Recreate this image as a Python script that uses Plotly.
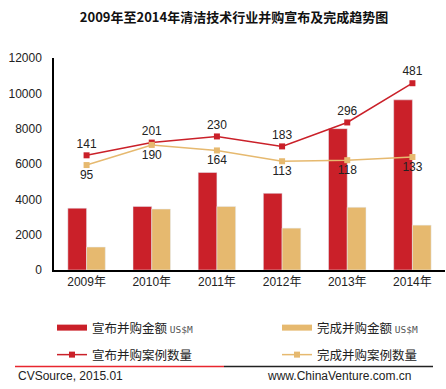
import plotly.graph_objects as go

years = ["2009年", "2010年", "2011年", "2012年", "2013年", "2014年"]
announced_amount = [3500, 3600, 5520, 4340, 8000, 9630]
completed_amount = [1300, 3450, 3600, 2370, 3550, 2540]
announced_cases = [141, 201, 230, 183, 296, 481]
completed_cases = [95, 190, 164, 113, 118, 133]

RED = "#CA2029"
TAN = "#E6B96F"
FONT = "Liberation Sans, Arial, Noto Sans CJK SC, sans-serif"
CJK = "Noto Sans CJK SC, sans-serif"
unit = " <span style='font-family:DejaVu Sans Mono, monospace;font-size:9.5px;color:#555'>US$M</span>"

fig = go.Figure()
fig.add_trace(go.Bar(x=years, y=announced_amount, marker_color=RED, showlegend=False,
                     name="宣布并购金额"))
fig.add_trace(go.Bar(x=years, y=completed_amount, marker_color=TAN, showlegend=False,
                     name="完成并购金额"))
# legend swatches for bars
fig.add_trace(go.Scatter(x=[None], y=[None], mode="lines", line=dict(color=RED, width=6),
                         name="宣布并购金额" + unit, legend="legend"))
fig.add_trace(go.Scatter(x=[None], y=[None], mode="lines", line=dict(color=TAN, width=6),
                         name="完成并购金额" + unit, legend="legend2"))
fig.add_trace(go.Scatter(x=years, y=announced_cases, yaxis="y2", mode="lines+markers+text",
                         line=dict(color=RED, width=1.5), marker=dict(symbol="square", size=6, color=RED),
                         text=[str(v) for v in announced_cases], textposition="top center",
                         textfont=dict(size=12, color="#222", family=FONT),
                         name="宣布并购案例数量", legend="legend3", cliponaxis=False))
fig.add_trace(go.Scatter(x=years, y=completed_cases, yaxis="y2", mode="lines+markers+text",
                         line=dict(color=TAN, width=1.5), marker=dict(symbol="square", size=6, color=TAN),
                         text=[str(v) for v in completed_cases], textposition="bottom center",
                         textfont=dict(size=12, color="#222", family=FONT),
                         name="完成并购案例数量", legend="legend4", cliponaxis=False))


def leg(px_x, px_top):
    return dict(orientation="h", xref="container", yref="container",
                x=px_x / 446, xanchor="left", y=1 - px_top / 389, yanchor="top",
                font=dict(size=12.5, family=CJK, color="#222"),
                bgcolor="rgba(0,0,0,0)", itemwidth=30)


fig.update_layout(
    width=446, height=389,
    margin=dict(l=54, r=1, t=58, b=119, autoexpand=False),
    paper_bgcolor="white", plot_bgcolor="white",
    font=dict(family=FONT, size=12, color="#222"),
    barmode="group", bargap=0.425, bargroupgap=0,
    title=dict(text="<b>2009年至2014年清洁技术行业并购宣布及完成趋势图</b>",
               font=dict(family=CJK, size=13, color="#111"),
               x=234 / 446, xanchor="center", y=1 - 17 / 389, yanchor="middle"),
    xaxis=dict(showline=True, linecolor="black", linewidth=1.5, ticks="", showgrid=False,
               tickfont=dict(size=12, family=FONT, color="#222")),
    yaxis=dict(range=[0, 12000], showline=True, linecolor="black", linewidth=1.5, showgrid=False,
               zeroline=False, dtick=2000, tickformat="d", ticks="outside", ticklen=8, tickcolor="white",
               tickfont=dict(size=12, family=FONT, color="#222")),
    yaxis2=dict(overlaying="y", range=[-400, 600], visible=False),
    legend=leg(52, 313),
    legend2=leg(277, 313),
    legend3=leg(52, 340),
    legend4=leg(277, 340),
)

# footer lines and source texts
fig.add_shape(type="line", xref="paper", yref="paper", x0=(15 - 54) / 391, x1=(224 - 54) / 391,
              y0=(270 - 367) / 213, y1=(270 - 367) / 213, line=dict(color="#E8262E", width=1.5))
fig.add_shape(type="line", xref="paper", yref="paper", x0=(224 - 54) / 391, x1=(433 - 54) / 391,
              y0=(270 - 367) / 213, y1=(270 - 367) / 213, line=dict(color="#222", width=1.5))
fig.add_annotation(text="CVSource, 2015.01", xref="paper", yref="paper", x=(16 - 54) / 391,
                   xanchor="left", y=(270 - 377) / 213, yanchor="middle", showarrow=False,
                   font=dict(size=12, family=FONT, color="#222"))
fig.add_annotation(text="www.ChinaVenture.com.cn", xref="paper", yref="paper", x=(413 - 54) / 391,
                   xanchor="right", y=(270 - 377) / 213, yanchor="middle", showarrow=False,
                   font=dict(size=12, family=FONT, color="#222"))

fig.write_html("out.html", config={"displayModeBar": False},
               post_script="document.body.style.margin='0';document.body.style.overflow='hidden';")
